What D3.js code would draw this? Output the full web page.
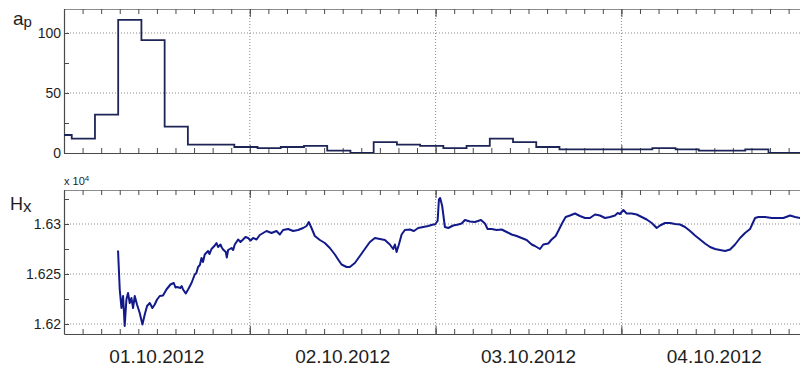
<!DOCTYPE html>
<html>
<head>
<meta charset="utf-8">
<script src="https://cdn.jsdelivr.net/npm/d3@7"></script>
<style>
  body { margin: 0; background: #fff; }
  svg { display: block; font-family: "Liberation Sans", Arial, sans-serif; }
</style>
</head>
<body>
<svg id="chart" width="800" height="369"></svg>
<script>
// ---- data -------------------------------------------------------------
// Day labels on the time axis
const dayLabels = ["01.10.2012", "02.10.2012", "03.10.2012", "04.10.2012"];

// ap index: 3-hour intervals, start hour counted from 01.10.2012 00:00
const apHours = [-2, 1, 4, 7, 10, 13, 16, 19, 22,
                 25, 28, 31, 34, 37, 40, 43, 46,
                 49, 52, 55, 58, 61, 64, 67, 70,
                 73, 76, 79, 82, 85, 88, 91, 94];
const apValues = [15, 12, 32, 111, 94, 22, 7, 7, 5,
                  4, 5, 6, 2, 0, 9, 7, 6,
                  4, 6, 12, 9, 5, 3, 3, 3,
                  3, 4, 3, 2, 2, 3, 0, 0];

// Hx component (nT), hours from 01.10.2012 00:00
const hxHours = [6.98, 7.20, 7.42, 7.63, 7.84, 8.06, 8.27, 8.49, 8.71, 8.92,
  9.14, 9.43, 9.78, 10.13, 10.43, 10.73, 11.08, 11.42, 11.72, 12.02,
  12.37, 12.79, 13.23, 13.75, 14.18, 14.40, 14.60, 15.04, 15.20, 15.38, 15.73, 16.03,
  16.47, 16.89, 17.10, 17.32, 17.55, 17.76, 17.95, 18.18, 18.61, 18.80, 19.05, 19.48, 19.70, 19.90, 20.21,
  20.38, 20.55, 20.90, 21.03, 21.20, 21.64, 21.85, 22.06, 22.49, 22.80, 23.13, 23.45, 23.78, 24.10, 24.43,
  24.87, 25.29, 26.16, 26.80, 27.45, 27.88, 28.30, 28.95, 29.60, 30.24,
  30.89, 31.33, 31.62, 31.97, 32.40, 33.05, 33.69, 34.34, 34.99, 35.41,
  35.85, 36.50, 36.92, 37.57, 38.22, 38.86, 39.51, 40.16, 40.80, 41.45,
  42.09, 42.52, 42.74, 42.96, 43.26, 43.61, 44.03, 44.68, 45.20, 45.75,
  46.40, 47.04, 47.69, 47.91, 48.26, 48.43, 48.59, 48.85, 49.20, 49.63,
  50.27, 50.92, 51.36, 51.79, 52.43, 53.08, 53.86, 54.37, 54.72, 55.24,
  55.88, 56.53, 57.18, 57.82, 58.47, 59.11, 59.76, 60.41, 60.83, 61.48,
  61.91, 62.55, 62.99, 63.51, 63.94, 64.36, 64.80, 65.36, 66.00, 66.65,
  67.30, 67.94, 68.59, 69.23, 69.88, 70.53, 71.17, 71.52, 71.82, 72.25,
  72.68, 73.33, 73.98, 74.62, 75.27, 75.92, 76.56, 76.99, 77.63, 78.28,
  78.93, 79.57, 80.22, 80.87, 81.51, 82.16, 82.80, 83.45, 84.10, 84.74,
  85.39, 86.04, 86.68, 87.33, 87.97, 88.62, 88.97, 89.27, 89.69, 90.56,
  91.42, 92.28, 92.92, 93.79, 94.44, 95.08, 96.00];
const hxValues = [16273.5, 16234.5, 16216, 16228, 16198, 16224.5, 16231, 16221, 16226, 16216,
  16228, 16219.5, 16211, 16199.5, 16209.5, 16218, 16221, 16216, 16219.5, 16224.5,
  16228, 16228.5, 16234.5, 16239.5, 16241, 16236.5, 16237, 16236, 16238, 16234.5, 16230.5, 16234.5,
  16241, 16249.5, 16251, 16257, 16259, 16266, 16262, 16269.5, 16273, 16270, 16275, 16278.5, 16281, 16277, 16279.5,
  16276.5, 16274.5, 16272, 16266.5, 16274, 16276, 16274, 16279.5, 16284.5, 16282, 16284.5, 16287, 16286, 16283.5, 16286,
  16284.5, 16289, 16293, 16291, 16293, 16289.5, 16294, 16295, 16293, 16294,
  16296, 16298, 16302, 16296, 16288, 16284, 16281, 16276, 16269.5, 16264.5,
  16259.5, 16257, 16257, 16261, 16268, 16275, 16282, 16286, 16285, 16284,
  16279.5, 16275, 16279.5, 16272, 16279.5, 16289.5, 16294, 16294.5, 16293, 16296,
  16297, 16298, 16299.5, 16299.5, 16303, 16324.5, 16326, 16318, 16297, 16296,
  16298.5, 16299.5, 16300.5, 16304, 16302.5, 16302, 16304, 16300.5, 16295, 16295,
  16294, 16294.5, 16292, 16289.5, 16288, 16286, 16284, 16279.5, 16278, 16275,
  16279.5, 16280.5, 16284.5, 16288, 16294.5, 16301, 16307, 16308.5, 16310.5, 16308,
  16306, 16306, 16309.5, 16308.5, 16306, 16307, 16308.5, 16311, 16310, 16314,
  16310.5, 16310.5, 16309.5, 16307, 16304.5, 16301, 16296, 16298.5, 16301, 16301,
  16300, 16299.5, 16297, 16293, 16288.5, 16284.5, 16280.5, 16277, 16275, 16274,
  16273, 16274.5, 16279.5, 16286, 16291, 16295, 16301, 16306, 16307, 16307,
  16306, 16306, 16306, 16308.5, 16307, 16306, 16306];

// Axis ticks
const apMajorTicks = [0, 50, 100];
const apMinorTicks = [25, 75];
const hxMajorTicks = [16200, 16250, 16300];
const hxTickLabels = ["1.62", "1.625", "1.63"];
const hxMinorTicks = [16225, 16275, 16325];

// ---- layout -----------------------------------------------------------
const svg = d3.select("#chart");
const t0 = Date.UTC(2012, 9, 1);
const toDate = h => new Date(t0 + h * 3600e3);

const plotLeft = 64, plotRight = 807.2;
const x = d3.scaleUtc().domain([toDate(0), toDate(96)]).range([plotLeft, plotRight]);

const panels = [
  { top: 9, bottom: 153, domain: [0, 120], major: apMajorTicks, minor: apMinorTicks,
    fmt: d => String(d) },
  { top: 190, bottom: 334, domain: [16190, 16334], major: hxMajorTicks, minor: hxMinorTicks,
    fmt: d => hxTickLabels[hxMajorTicks.indexOf(d)] }
];
panels.forEach(p => {
  p.y = d3.scaleLinear().domain(p.domain).range([p.bottom, p.top]);
});

const dayBounds = [24, 48, 72].map(toDate);
const minorX = d3.range(0, 41).map(i => toDate(i * 2.4));

const gridColor = "#8a8a8a";
const axisColor = "#4a4a4a";
const textColor = "#1e1e1e";

panels.forEach((p, i) => {
  const g = svg.append("g");

  // clip area for the data marks
  svg.append("clipPath").attr("id", "clip" + i)
    .append("rect").attr("x", plotLeft).attr("y", p.top)
    .attr("width", plotRight - plotLeft).attr("height", p.bottom - p.top);

  // dotted grid
  g.selectAll(".hgrid").data(p.major.filter(v => p.y(v) > p.top + 1 && p.y(v) < p.bottom - 1))
    .join("line")
    .attr("x1", plotLeft).attr("x2", plotRight)
    .attr("y1", d => p.y(d)).attr("y2", d => p.y(d))
    .attr("stroke", gridColor).attr("stroke-width", 1).attr("stroke-dasharray", "1,2");
  g.selectAll(".vgrid").data(dayBounds).join("line")
    .attr("x1", d => x(d)).attr("x2", d => x(d))
    .attr("y1", p.top).attr("y2", p.bottom)
    .attr("stroke", gridColor).attr("stroke-width", 1).attr("stroke-dasharray", "1,2");

  // bottom / top time axes with inward ticks
  const bottomAxis = d3.axisBottom(x).tickValues(minorX).tickSize(-5).tickSizeOuter(0).tickFormat("");
  const topAxis = d3.axisTop(x).tickValues(minorX).tickSize(-5).tickSizeOuter(0).tickFormat("");
  const gb = g.append("g").attr("transform", `translate(0,${p.bottom})`).call(bottomAxis);
  const gt = g.append("g").attr("transform", `translate(0,${p.top})`).call(topAxis);
  [gb, gt].forEach(a => {
    a.select(".domain").attr("stroke", axisColor).attr("stroke-width", 1.2);
    a.selectAll(".tick line").attr("stroke", axisColor);
  });
  gt.select(".domain").attr("stroke", "#8c8c8c");
  // longer ticks at day boundaries
  g.append("g").attr("transform", `translate(0,${p.bottom})`)
    .call(d3.axisBottom(x).tickValues(dayBounds).tickSize(-8).tickSizeOuter(0).tickFormat(""))
    .call(a => a.select(".domain").remove())
    .selectAll(".tick line").attr("stroke", axisColor);
  g.append("g").attr("transform", `translate(0,${p.top})`)
    .call(d3.axisTop(x).tickValues(dayBounds).tickSize(-8).tickSizeOuter(0).tickFormat(""))
    .call(a => a.select(".domain").remove())
    .selectAll(".tick line").attr("stroke", axisColor);

  // left value axis
  const ticks = p.major.concat(p.minor).sort((a, b) => a - b);
  const gl = g.append("g").attr("transform", `translate(${plotLeft},0)`)
    .call(d3.axisLeft(p.y).tickValues(ticks).tickSize(-5).tickSizeOuter(0).tickPadding(3)
      .tickFormat(d => p.major.includes(d) ? p.fmt(d) : ""));
  gl.select(".domain").attr("stroke", axisColor).attr("stroke-width", 1.2);
  gl.selectAll(".tick line").attr("stroke", axisColor);
  gl.selectAll(".tick text").attr("fill", textColor)
    .style("font-size", "14px").style("font-family", "'Liberation Sans', Arial, sans-serif");
  // right side ticks
  g.append("g").attr("transform", `translate(${plotRight},0)`)
    .call(d3.axisRight(p.y).tickValues(ticks).tickSize(-5).tickSizeOuter(0).tickFormat(""))
    .call(a => a.selectAll("line,path").attr("stroke", axisColor));
});

// ---- ap step line ----------------------------------------------------
const apPts = apHours.map((h, i) => [h, apValues[i]]);
apPts.push([apHours[apHours.length - 1] + 3, apValues[apValues.length - 1]]);
const yAp = panels[0].y;
svg.append("path")
  .datum(apPts)
  .attr("clip-path", "url(#clip0)")
  .attr("fill", "none")
  .attr("stroke", "#1c2556")
  .attr("stroke-width", 1.8)
  .attr("d", d3.line().curve(d3.curveStepAfter)
    .x(d => x(toDate(d[0]))).y(d => yAp(d[1])));

// ---- Hx line ---------------------------------------------------------
const yHx = panels[1].y;
svg.append("path")
  .datum(hxHours.map((h, i) => [h, hxValues[i]]))
  .attr("clip-path", "url(#clip1)")
  .attr("fill", "none")
  .attr("stroke", "#121a8a")
  .attr("stroke-width", 2)
  .attr("stroke-linejoin", "round")
  .attr("d", d3.line().x(d => x(toDate(d[0]))).y(d => yHx(d[1])));

// ---- labels ----------------------------------------------------------
svg.selectAll(".daylabel").data(dayLabels).join("text")
  .attr("x", (d, i) => x(toDate(12 + 24 * i)))
  .attr("y", 363)
  .attr("text-anchor", "middle")
  .attr("fill", textColor)
  .style("font-size", "19px")
  .text(d => d);

const apLabel = svg.append("text").attr("x", 13).attr("y", 25).attr("fill", textColor)
  .style("font-size", "19px");
apLabel.append("tspan").text("a");
apLabel.append("tspan").attr("dy", 1.5).style("font-size", "15px").text("p");

const hxLabel = svg.append("text").attr("x", 10).attr("y", 210).attr("fill", textColor)
  .style("font-size", "18px");
hxLabel.append("tspan").text("H");
hxLabel.append("tspan").attr("dy", 2).style("font-size", "17px").text("x");

const scaleLabel = svg.append("text").attr("x", 64).attr("y", 185).attr("fill", textColor)
  .style("font-size", "11px");
scaleLabel.append("tspan").text("x 10");
scaleLabel.append("tspan").attr("dy", -4).style("font-size", "8px").text("4");
</script>
</body>
</html>
